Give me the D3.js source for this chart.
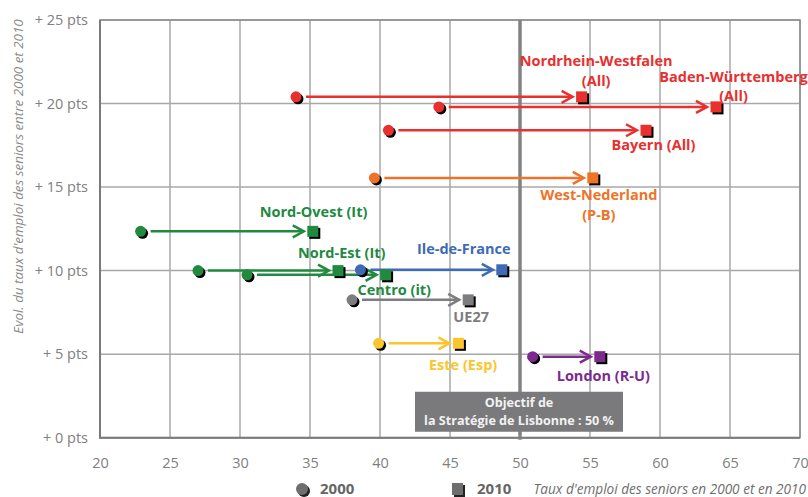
<!DOCTYPE html>
<html><head><meta charset="utf-8">
<script src="https://cdn.jsdelivr.net/npm/d3@7"></script>
<style>body{margin:0;background:#fff;} svg{display:block;font-family:"Open Sans",sans-serif;}</style>
</head><body><svg id="c" width="808" height="497"></svg>
<script>
// ---- data ----
const regions = ["Nordrhein-Westfalen (All)","Baden-Württemberg (All)","Bayern (All)","West-Nederland (P-B)","Nord-Ovest (It)","Nord-Est (It)","Ile-de-France","Centro (it)","UE27","Este (Esp)","London (R-U)"];
const labelLines = [["Nordrhein-Westfalen","(All)"],["Baden-Württemberg","(All)"],["Bayern (All)"],["West-Nederland","(P-B)"],["Nord-Ovest (It)"],["Nord-Est (It)"],["Ile-de-France"],["Centro (it)"],["UE27"],["Este (Esp)"],["London (R-U)"]];
const rate2000 = [34.0,44.2,40.6,39.6,22.9,27.0,38.6,30.5,38.0,39.9,50.9];
const rate2010 = [54.4,64.0,59.0,55.2,35.2,37.0,48.7,40.4,46.3,45.6,55.7];
const evolution = [20.4,19.8,18.4,15.55,12.35,10.0,10.05,9.75,8.25,5.65,4.85];
const xTicks = [20,25,30,35,40,45,50,55,60,65,70];
const yTicks = [0,5,10,15,20,25];
const yTickLabel = v => "+ " + v + " pts";
const objectiveValue = 50;
const objectiveText = ["Objectif de","la Stratégie de Lisbonne : 50 %"];
const legendLabels = ["2000","2010"];
const xTitle = "Taux d'emploi des seniors en 2000 et en 2010";
const yTitle = "Evol. du taux d'emploi des seniors entre 2000 et 2010";

// ---- styles / layout ----
const seriesColors = ["#e8302e","#e8302e","#e8302e","#ee7328","#218a3f","#218a3f","#3d6bb5","#218a3f","#7d7d7f","#fcc52e","#7c2a8b"];
// label offsets in px relative to the 2010 marker: [dx, dy of first line]
const labelOffsets = [[14.6,-35.6],[17.5,-30],[7.5,15],[6,17.3],[0.7,-19.7],[3.7,-17.7],[-38,-21],[8.7,15],[3,17],[4.7,21.7],[3.5,19.3]];
const lineGap = 19.5;

const svg = d3.select("#c");
const M = {left:100, right:800, top:20, bottom:437.7};
const x = d3.scaleLinear().domain([20,70]).range([M.left, M.right]);
const y = d3.scaleLinear().domain([0,25]).range([M.bottom, M.top]);

// grid
const g = svg.append("g");
g.selectAll(".gx").data(xTicks).join("line")
  .attr("x1", d=>x(d)).attr("x2", d=>x(d)).attr("y1", M.top).attr("y2", M.bottom)
  .attr("stroke","#a8a8a8").attr("stroke-width",1.5);
g.selectAll(".gy").data(yTicks).join("line")
  .attr("x1", M.left).attr("x2", M.right).attr("y1", d=>y(d)).attr("y2", d=>y(d))
  .attr("stroke","#a8a8a8").attr("stroke-width",1.5);
// frame
svg.append("rect").attr("x",M.left).attr("y",M.top).attr("width",M.right-M.left).attr("height",M.bottom-M.top)
  .attr("fill","none").attr("stroke","#8c8c8c").attr("stroke-width",1.5);
svg.append("line").attr("x1",M.left).attr("x2",M.left).attr("y1",M.top).attr("y2",M.bottom+1)
  .attr("stroke","#7a7a7a").attr("stroke-width",2);
svg.append("line").attr("x1",M.left).attr("x2",M.right).attr("y1",M.bottom).attr("y2",M.bottom)
  .attr("stroke","#7a7a7a").attr("stroke-width",2);

// axes via d3
const xAxis = svg.append("g").attr("transform",`translate(0,${M.bottom})`)
  .call(d3.axisBottom(x).tickValues(xTicks).tickSize(0).tickPadding(20).tickFormat(d3.format("d")));
const yAxis = svg.append("g").attr("transform",`translate(${M.left},0)`)
  .call(d3.axisLeft(y).tickValues(yTicks).tickSize(0).tickPadding(12).tickFormat(yTickLabel));
[xAxis,yAxis].forEach(a=>{
  a.select(".domain").remove();
  a.selectAll("text").attr("fill","#808080").attr("font-size",14.5).attr("font-family","'Open Sans',sans-serif");
});

// objective line
svg.append("line").attr("x1",x(objectiveValue)).attr("x2",x(objectiveValue)).attr("y1",M.top).attr("y2",M.bottom+2)
  .attr("stroke","#828282").attr("stroke-width",3.5);

// objective box
const bx = x(objectiveValue);
svg.append("rect").attr("x",bx-105).attr("y",y(2.75)).attr("width",208).attr("height",40)
  .attr("fill","#7a7a7c");
svg.selectAll(".obj").data(objectiveText).join("text")
  .attr("x",bx-1).attr("y",(d,i)=>y(2.75)+11+i*17.5).attr("dy","0.35em")
  .attr("text-anchor","middle").attr("fill","#f2f2f2").attr("font-size",12.6).attr("font-weight",700)
  .text(d=>d);

// arrows
const idx = d3.range(regions.length);
const arrows = svg.append("g");
idx.forEach(i=>{
  const x0 = x(rate2000[i]), x1 = x(rate2010[i]), yy = y(evolution[i]);
  const tip = x1 - 9;
  arrows.append("line").attr("x1",x0+10).attr("x2",tip-1).attr("y1",yy).attr("y2",yy)
    .attr("stroke",seriesColors[i]).attr("stroke-width",2.5);
  arrows.append("path").attr("d",`M${tip-11},${yy-6}L${tip},${yy}L${tip-11},${yy+6}`)
    .attr("fill","none").attr("stroke",seriesColors[i]).attr("stroke-width",2.5);
});

// markers
const mk = svg.append("g");
idx.forEach(i=>{
  const x0 = x(rate2000[i]), x1 = x(rate2010[i]), yy = y(evolution[i]);
  mk.append("circle").attr("cx",x0+2).attr("cy",yy+2).attr("r",5.5).attr("fill","#000");
  mk.append("circle").attr("cx",x0).attr("cy",yy).attr("r",5.5).attr("fill",seriesColors[i]);
  mk.append("rect").attr("x",x1-5.5+2).attr("y",yy-5.5+2).attr("width",11).attr("height",11).attr("fill","#000");
  mk.append("rect").attr("x",x1-5.5).attr("y",yy-5.5).attr("width",11).attr("height",11).attr("fill",seriesColors[i]);
});

// labels
const lb = svg.append("g");
idx.forEach(i=>{
  const cx = x(rate2010[i]) + labelOffsets[i][0];
  const cy = y(evolution[i]) + labelOffsets[i][1];
  labelLines[i].forEach((t,j)=>{
    lb.append("text").attr("x",cx).attr("y",cy+j*lineGap).attr("dy","0.35em")
      .attr("text-anchor","middle").attr("fill",seriesColors[i])
      .attr("font-size",14.5).attr("font-weight",700).text(t);
  });
});

// axis titles
svg.append("text").attr("transform",`translate(23,176.5) rotate(-90)`)
  .attr("text-anchor","middle").attr("fill","#8a8a8a").attr("font-size",13.4).attr("font-style","italic")
  .text(yTitle);
svg.append("text").attr("x",806).attr("y",489).attr("dy","0.35em").attr("text-anchor","end")
  .attr("fill","#6e6e6e").attr("font-size",13.6).attr("font-style","italic").text(xTitle);

// legend
const lg = svg.append("g");
lg.append("circle").attr("cx",304).attr("cy",491).attr("r",6).attr("fill","#222");
lg.append("circle").attr("cx",302).attr("cy",489).attr("r",6).attr("fill","#6e6e6e");
lg.append("rect").attr("x",454).attr("y",485).attr("width",11).attr("height",12).attr("fill","#222");
lg.append("rect").attr("x",452).attr("y",483).attr("width",11).attr("height",12).attr("fill","#6e6e6e");
lg.selectAll(".lt").data(legendLabels).join("text")
  .attr("x",(d,i)=>i?477:320).attr("y",489).attr("dy","0.33em")
  .attr("fill","#666").attr("font-size",15).attr("font-weight",700).text(d=>d);
</script></body></html>
